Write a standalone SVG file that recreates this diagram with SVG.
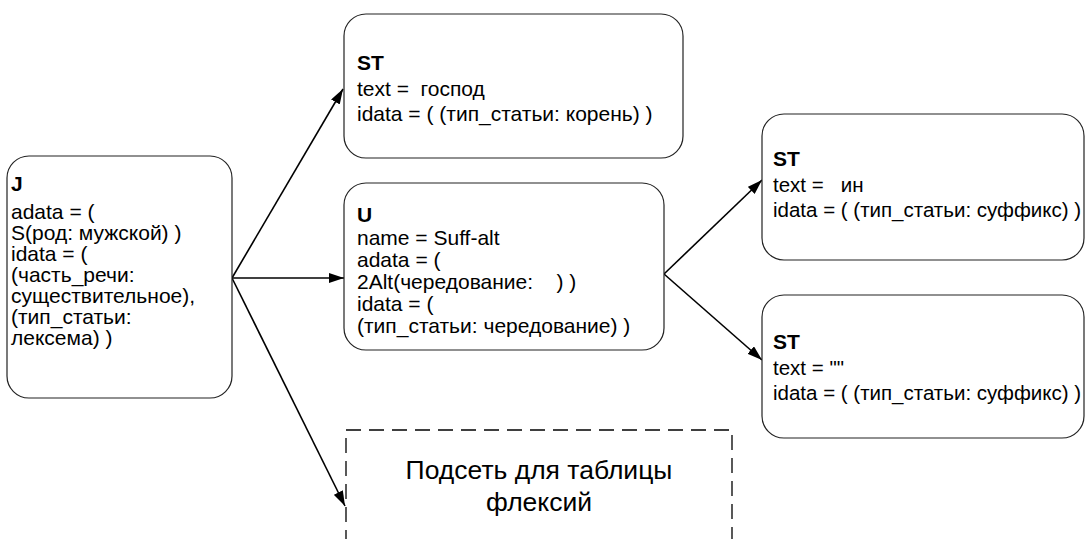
<svg xmlns="http://www.w3.org/2000/svg" width="1086" height="539" viewBox="0 0 1086 539">
<style>
.box{fill:#fff;stroke:#222;stroke-width:1.2}
.dash{fill:none;stroke:#000;stroke-width:1.3;stroke-dasharray:15 8}
.t{font-family:"Liberation Sans",Arial,sans-serif;font-size:21px;fill:#000;white-space:pre}
.r{font-size:20.5px}
.b{font-weight:bold;font-size:21px}
.big{font-family:"Liberation Sans",Arial,sans-serif;font-size:26.5px;fill:#000;text-anchor:middle}
.c{stroke:#000;stroke-width:1.6;fill:none;marker-end:url(#ah)}
</style>
<defs>
<marker id="ah" viewBox="0 0 15 10" refX="15" refY="5" markerWidth="15" markerHeight="10" markerUnits="userSpaceOnUse" orient="auto">
<path d="M0,0 L15,5 L0,10 Z" fill="#000"/>
</marker>
</defs>
<rect width="1086" height="539" fill="#fff"/>
<g id="connectors">
<line class="c" x1="232" y1="278" x2="343" y2="89"/>
<line class="c" x1="232" y1="278" x2="344" y2="278"/>
<line class="c" x1="232" y1="278" x2="345" y2="506"/>
<line class="c" x1="664" y1="274" x2="762" y2="180"/>
<line class="c" x1="664" y1="274" x2="762" y2="360"/>
</g>
<g id="node-J">
<rect class="box" x="7" y="156" width="225" height="242" rx="22"/>
<text class="t"><tspan class="b" x="11" y="191">J</tspan><tspan x="11" y="219">adata = (</tspan><tspan x="11" y="240">S(род: мужской) )</tspan><tspan x="11" y="261">idata = (</tspan><tspan x="11" y="282">(часть_речи:</tspan><tspan x="11" y="303">существительное),</tspan><tspan x="11" y="324">(тип_статьи:</tspan><tspan x="11" y="345">лексема) )</tspan></text>
</g>
<g id="node-ST1">
<rect class="box" x="344" y="14" width="339" height="144" rx="22"/>
<text class="t"><tspan class="b" x="357" y="70">ST</tspan><tspan x="357" y="96">text =  господ</tspan><tspan x="357" y="121">idata = ( (тип_статьи: корень) )</tspan></text>
</g>
<g id="node-U">
<rect class="box" x="344" y="183" width="320" height="167" rx="22"/>
<text class="t"><tspan class="b" x="357" y="222">U</tspan><tspan x="357" y="245">name = Suff-alt</tspan><tspan x="357" y="267">adata = (</tspan><tspan x="357" y="289">2Alt(чередование:    ) )</tspan><tspan x="357" y="311">idata = (</tspan><tspan x="357" y="333">(тип_статьи: чередование) )</tspan></text>
</g>
<g id="node-ST2">
<rect class="box" x="762" y="114" width="322" height="146" rx="22"/>
<text class="t r"><tspan class="b" x="773" y="166">ST</tspan><tspan x="773" y="192">text =   ин</tspan><tspan x="773" y="217">idata = ( (тип_статьи: суффикс) )</tspan></text>
</g>
<g id="node-ST3">
<rect class="box" x="762" y="295" width="322" height="143" rx="22"/>
<text class="t r"><tspan class="b" x="773" y="349">ST</tspan><tspan x="773" y="375">text = ""</tspan><tspan x="773" y="400">idata = ( (тип_статьи: суффикс) )</tspan></text>
</g>
<g id="node-subnet">
<path class="dash" d="M346,545 L346,430 L732,430 L732,545"/>
<text class="big"><tspan x="539" y="479">Подсеть для таблицы</tspan><tspan x="539" y="511">флексий</tspan></text>
</g>
</svg>
